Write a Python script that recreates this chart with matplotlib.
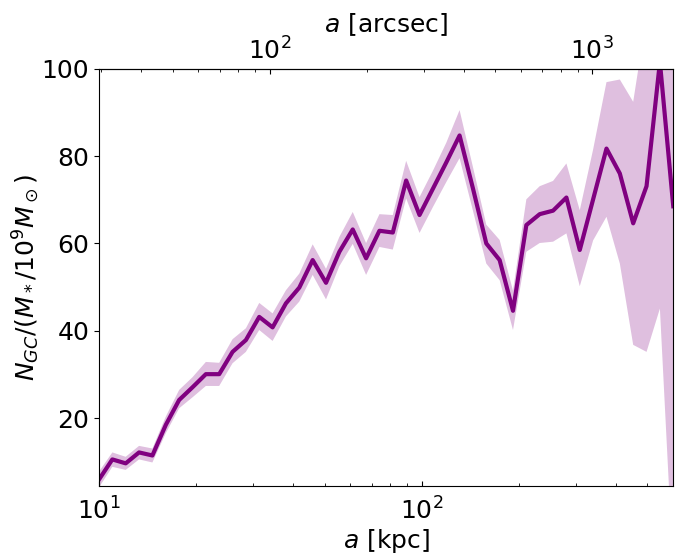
import numpy as np
import matplotlib
matplotlib.use("Agg")
import matplotlib.pyplot as plt

# radius bins (kpc) and GC specific frequency with its band
a_kpc = [10.0, 11.0, 12.1, 13.31, 14.64, 16.11, 17.72, 19.49, 21.44, 23.58,
         25.94, 28.53, 31.38, 34.52, 37.97, 41.77, 45.95, 50.54, 55.6, 61.16,
         67.27, 74.0, 81.4, 89.54, 98.5, 108.35, 119.18, 131.1, 144.21, 158.63,
         174.49, 191.94, 211.14, 232.25, 255.48, 281.02, 309.13, 340.04, 374.04,
         411.45, 452.59, 497.85, 547.64, 602.4]
n_gc = [6.0, 10.6, 9.7, 12.2, 11.5, 18.5, 24.2, 27.1, 30.1, 30.1,
        35.2, 37.9, 43.2, 40.8, 46.3, 49.9, 56.2, 51.0, 58.1, 63.2,
        56.6, 62.9, 62.5, 74.4, 66.5, 72.5, 78.5, 84.7, 72.6, 60.0,
        56.2, 44.6, 64.2, 66.7, 67.5, 70.5, 58.5, 70.1, 81.7,
        76.0, 64.6, 73.1, 101.5, 68.5]
n_lo = [4.2, 8.9, 8.2, 10.6, 9.9, 16.6, 22.3, 24.8, 27.4, 27.4,
        32.6, 35.2, 40.2, 37.7, 43.3, 46.7, 52.8, 47.2, 54.8, 59.9,
        52.8, 59.2, 58.6, 70.3, 62.4, 68.3, 74.0, 79.5, 67.5, 55.4,
        51.6, 40.2, 58.1, 60.1, 60.4, 62.3, 50.2, 60.7, 66.1,
        55.4, 36.8, 35.2, 45.1, -15.0]
n_hi = [7.8, 12.2, 11.2, 13.7, 13.1, 20.4, 26.5, 29.4, 32.9, 32.7,
        38.1, 40.6, 46.4, 44.0, 49.3, 53.1, 59.8, 54.2, 61.5, 67.2,
        60.1, 66.7, 66.5, 78.9, 70.6, 76.6, 83.0, 90.5, 77.5, 64.3,
        60.8, 49.2, 70.1, 73.1, 74.3, 78.3, 67.6, 81.5, 96.9,
        97.5, 92.4, 112.0, 150.0, 150.0]

kpc_per_arcsec = 0.338

fs = 18
fig = plt.figure(figsize=(6.78, 5.53), dpi=100)
ax = fig.add_axes([0.146, 0.121, 0.847, 0.755])

ax.fill_between(a_kpc, n_lo, n_hi, color='purple', alpha=0.25, lw=0)
ax.plot(a_kpc, n_gc, color='purple', lw=3)

ax.set_xscale('log')
ax.set_xlim(10, 602.4)
ax.set_ylim(4.5, 100)
ax.set_yticks([20, 40, 60, 80, 100])
ax.set_xlabel('$a$ [kpc]', fontsize=fs, labelpad=2)
ax.set_ylabel(r'$N_{GC}/(M_*/10^9M_\odot)$', fontsize=fs, labelpad=0)
ax.tick_params(axis='x', which='both', direction='in', labelsize=fs, pad=8)
ax.tick_params(axis='y', which='both', direction='out', labelsize=fs)

top = ax.secondary_xaxis('top', functions=(lambda x: x / kpc_per_arcsec,
                                           lambda x: x * kpc_per_arcsec))
top.set_xlabel('$a$ [arcsec]', fontsize=fs)
top.tick_params(axis='x', which='both', direction='in', labelsize=fs, pad=3)

fig.savefig('out.png', dpi=100)
